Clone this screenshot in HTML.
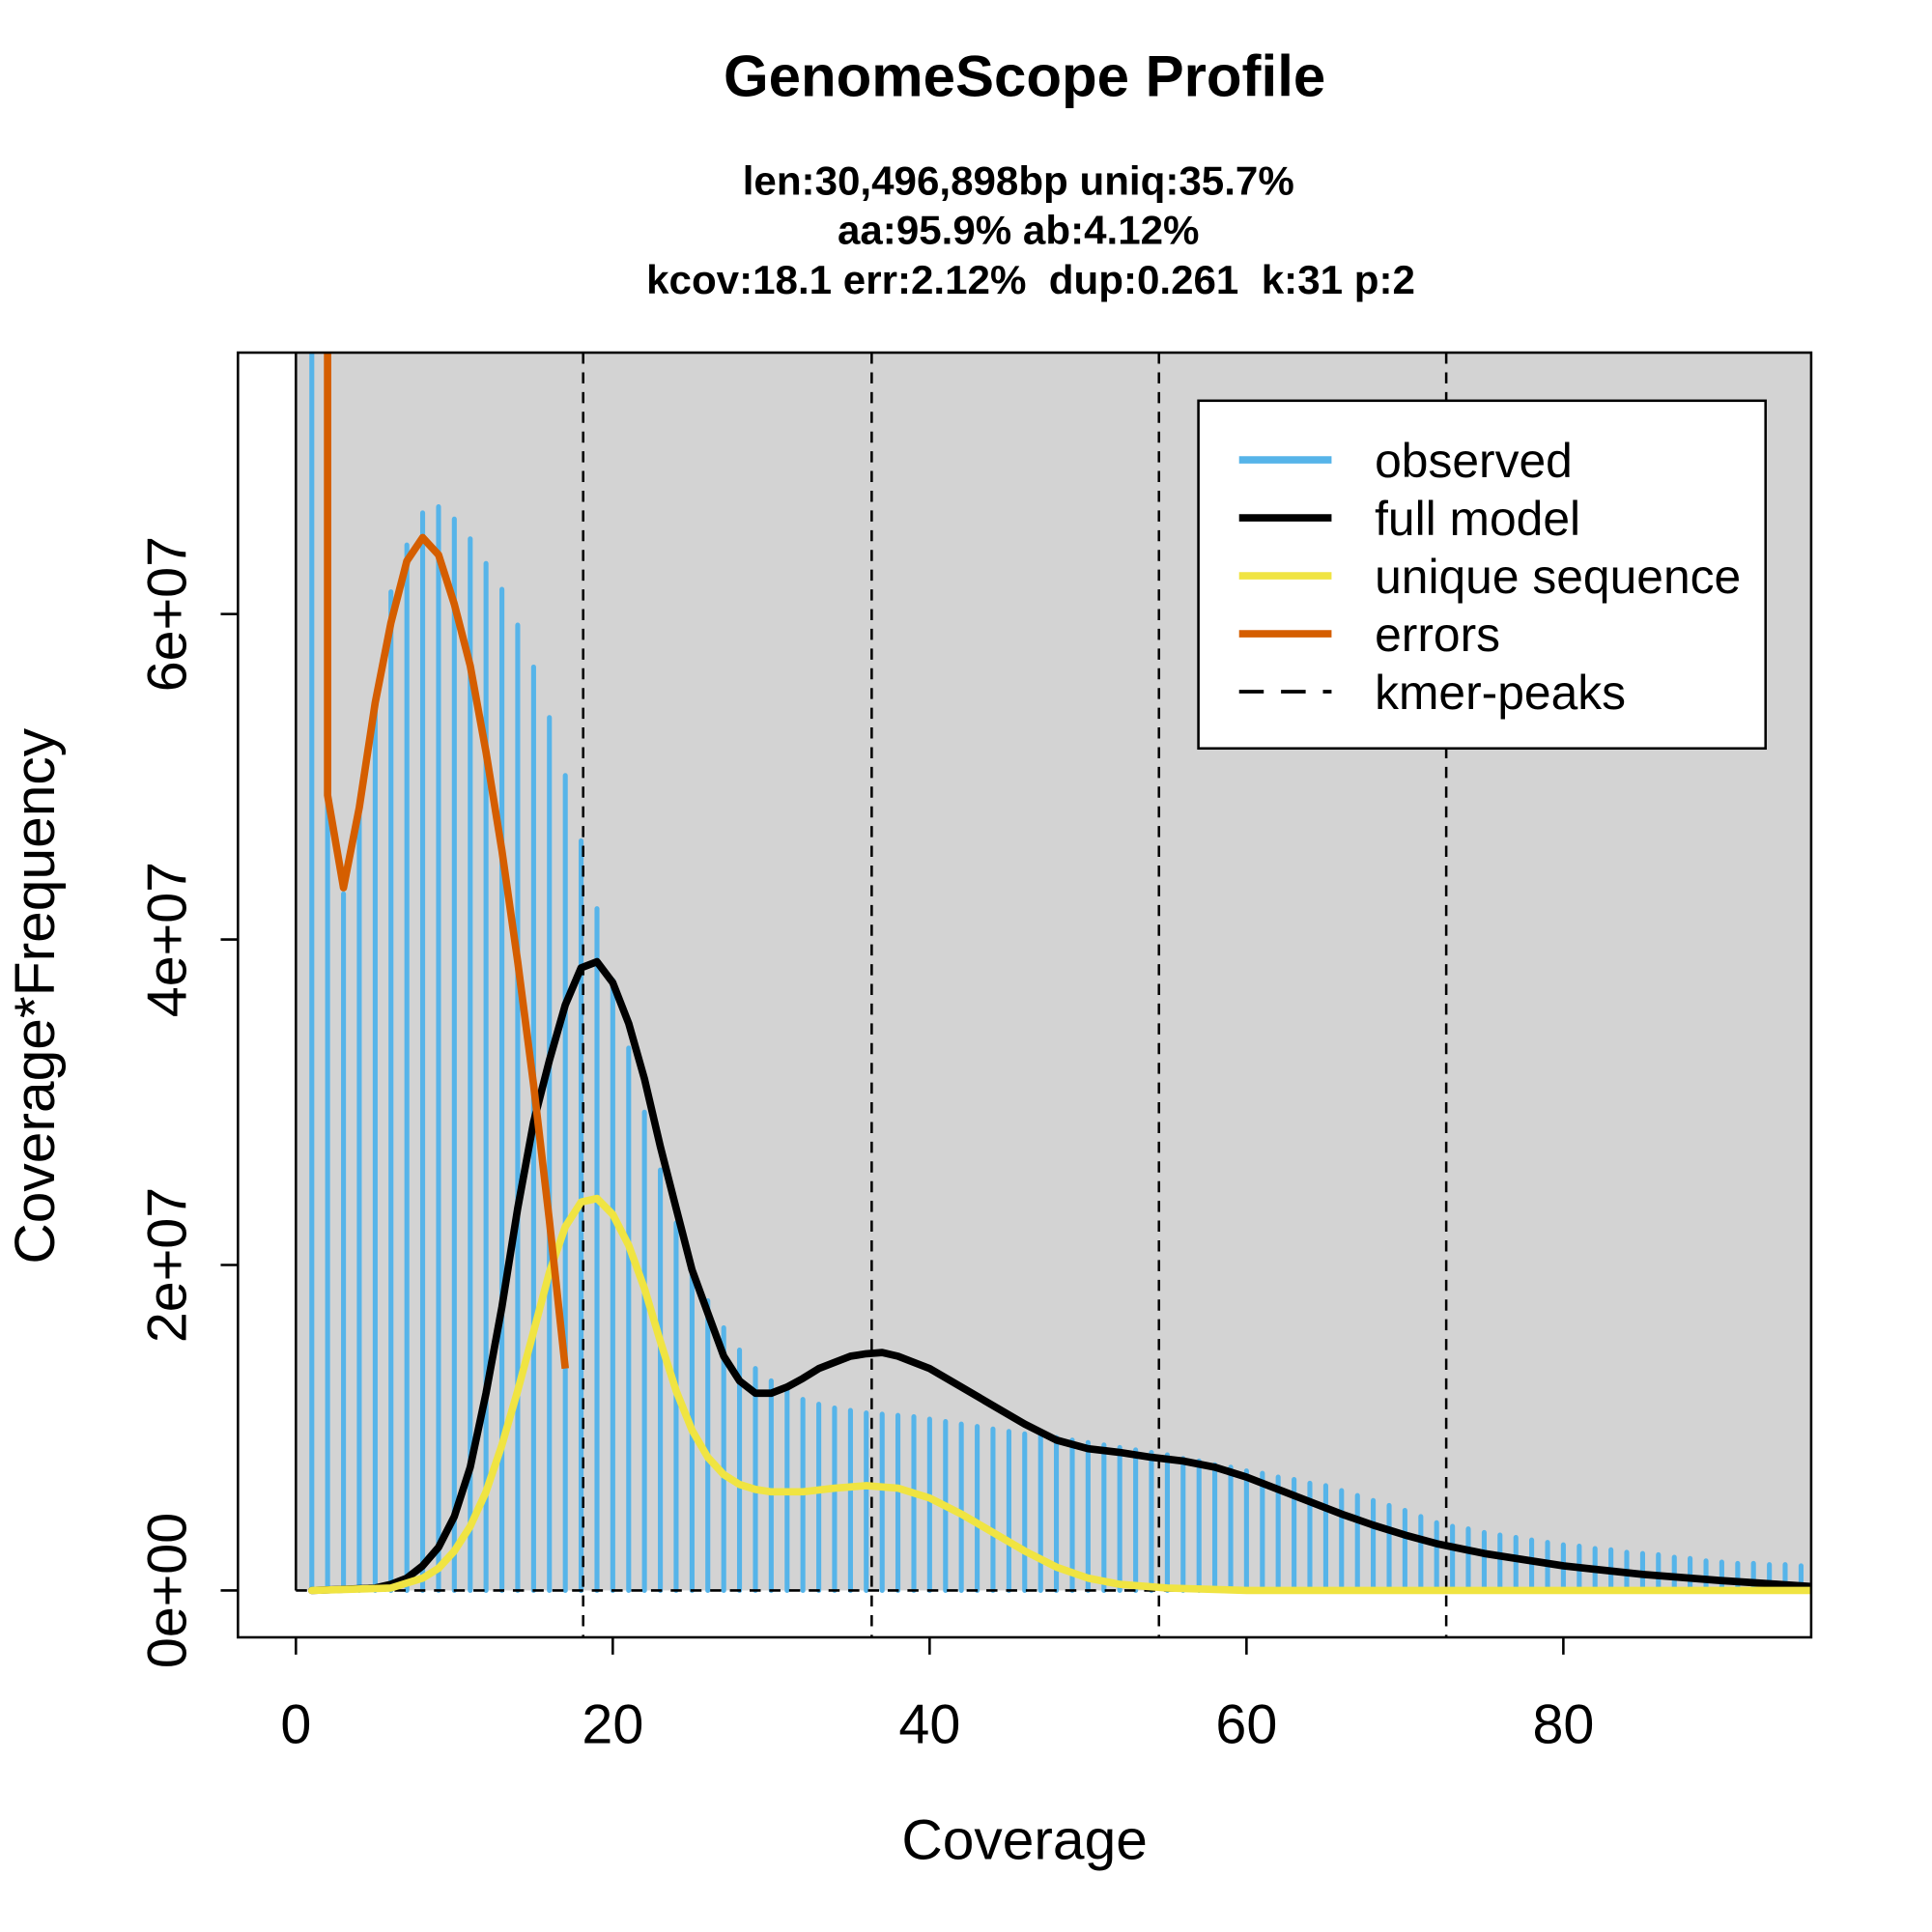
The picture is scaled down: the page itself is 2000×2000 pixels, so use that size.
<!DOCTYPE html>
<html><head><style>html,body{margin:0;padding:0;background:#fff}svg{display:block}</style></head>
<body>
<svg width="2000" height="2000" viewBox="0 0 1567 1567" xmlns="http://www.w3.org/2000/svg" font-family="Liberation Sans, Arial, sans-serif">
<rect width="1567" height="1567" fill="#fff"/>
<rect x="240" y="286" width="1229" height="1004" fill="#d3d3d3"/>
<line x1="240" y1="286" x2="240" y2="1290" stroke="#000" stroke-width="2"/>
<defs><clipPath id="c"><rect x="193" y="286" width="1276" height="1042"/></clipPath></defs>
<g clip-path="url(#c)">
<path fill="none" stroke="#56B4E9" stroke-width="4" stroke-linecap="round" d="
M252.9 1290V250M265.7 1290V250M278.6 1290V725M291.4 1290V660M304.3 1290V575M317.1 1290V480M330.0 1290V442M342.8 1290V416M355.7 1290V411M368.5 1290V421
M381.4 1290V437M394.2 1290V457M407.1 1290V478M419.9 1290V507M432.8 1290V541M445.6 1290V582M458.5 1290V629M471.3 1290V682M484.2 1290V737M497.0 1290V795
M509.9 1290V850M522.7 1290V902M535.6 1290V949M548.4 1290V992M561.3 1290V1027M574.1 1290V1055M587.0 1290V1077M599.8 1290V1095M612.7 1290V1110M625.5 1290V1120
M638.4 1290V1128M651.2 1290V1135M664.1 1290V1139M676.9 1290V1142M689.8 1290V1144M702.6 1290V1146M715.5 1290V1147M728.3 1290V1148M741.2 1290V1149M754.0 1290V1151
M766.9 1290V1153M779.7 1290V1155M792.6 1290V1157M805.4 1290V1159M818.3 1290V1161M831.1 1290V1163M844.0 1290V1164M856.8 1290V1166M869.7 1290V1168M882.5 1290V1170
M895.4 1290V1172M908.2 1290V1174M921.1 1290V1176M933.9 1290V1178M946.8 1290V1180M959.6 1290V1183M972.5 1290V1185M985.3 1290V1188M998.2 1290V1190M1011.0 1290V1193
M1023.9 1290V1195M1036.7 1290V1198M1049.6 1290V1200M1062.4 1290V1203M1075.3 1290V1205M1088.1 1290V1209M1101.0 1290V1213M1113.8 1290V1217M1126.7 1290V1221M1139.5 1290V1225
M1152.4 1290V1230M1165.2 1290V1235M1178.1 1290V1238M1190.9 1290V1240M1203.8 1290V1243M1216.6 1290V1245M1229.5 1290V1247M1242.3 1290V1249M1255.2 1290V1251M1268.0 1290V1253
M1280.9 1290V1254M1293.7 1290V1256M1306.6 1290V1257M1319.4 1290V1259M1332.3 1290V1260M1345.1 1290V1261M1358.0 1290V1263M1370.8 1290V1264M1383.7 1290V1266M1396.5 1290V1267
M1409.4 1290V1268M1422.2 1290V1268M1435.1 1290V1269M1447.9 1290V1269M1460.8 1290V1270"/>
<g stroke="#000" stroke-width="2" stroke-dasharray="9,7">
<line x1="473" y1="286" x2="473" y2="1328"/><line x1="707" y1="286" x2="707" y2="1328"/>
<line x1="940" y1="286" x2="940" y2="1328"/><line x1="1173" y1="286" x2="1173" y2="1328"/>
<line x1="240" y1="1290" x2="1469" y2="1290"/>
</g>
<polyline fill="none" stroke="#000" stroke-width="6" stroke-linejoin="round" stroke-linecap="round" points="252.9,1290 304.3,1288 317.1,1285 330,1280 342.8,1270 355.7,1255 368.5,1230 381.4,1190 394.2,1130 407.1,1060 419.9,980 432.8,910 445.6,860 458.5,815 471.3,785 484.2,780 497,797 509.9,830 522.7,875 535.6,930 548.4,980 561.3,1030 574.1,1065 587,1100 599.8,1120 612.7,1130 625.5,1130 638.4,1125 651.2,1118 664.1,1110 676.9,1105 689.8,1100 702.6,1098 715.5,1097 728.3,1100 754,1110 779.7,1125 805.4,1140 831.1,1155 856.8,1168 882.5,1175 908.2,1178 933.9,1182 959.6,1185 985.3,1190 1011,1198 1036.7,1208 1062.4,1218 1088.1,1228 1113.8,1237 1139.5,1245 1165.2,1252 1203.8,1260 1268,1270 1332.3,1277 1396.5,1282 1473,1287"/>
<polyline fill="none" stroke="#F0E442" stroke-width="6" stroke-linejoin="round" stroke-linecap="round" points="252.9,1290 317.1,1288 342.8,1280 355.7,1272 368.5,1258 381.4,1238 394.2,1210 407.1,1172 419.9,1128 432.8,1080 445.6,1032 458.5,995 471.3,975 484.2,972 497,985 509.9,1010 522.7,1045 535.6,1088 548.4,1128 561.3,1160 574.1,1182 587,1196 599.8,1204 612.7,1208 625.5,1210 651.2,1210 676.9,1207 702.6,1205 728.3,1207 754,1215 779.7,1228 805.4,1243 831.1,1258 856.8,1271 882.5,1280 908.2,1285 946.8,1288 1011,1290 1473,1290"/>
<polyline fill="none" stroke="#D55E00" stroke-width="6" stroke-linejoin="round" points="265.7,280 265.7,645 278.6,720 291.4,655 304.3,570 317.1,505 330,455 342.8,436 355.7,450 368.5,490 381.4,540 394.2,610 407.1,690 419.9,780 432.8,880 445.6,990 458.5,1110"/>
</g>
<rect x="193" y="286" width="1276" height="1042" fill="none" stroke="#000" stroke-width="2"/>
<g stroke="#000" stroke-width="2">
<line x1="240" y1="1328" x2="240" y2="1342"/><line x1="497" y1="1328" x2="497" y2="1342"/><line x1="754" y1="1328" x2="754" y2="1342"/><line x1="1011" y1="1328" x2="1011" y2="1342"/><line x1="1268" y1="1328" x2="1268" y2="1342"/>
<line x1="193" y1="1290" x2="179" y2="1290"/><line x1="193" y1="1026" x2="179" y2="1026"/><line x1="193" y1="762" x2="179" y2="762"/><line x1="193" y1="498" x2="179" y2="498"/>
</g>
<g font-size="45" text-anchor="middle">
<text x="240" y="1414">0</text><text x="497" y="1414">20</text><text x="754" y="1414">40</text><text x="1011" y="1414">60</text><text x="1268" y="1414">80</text>
<text transform="translate(151,1290) rotate(-90)">0e+00</text>
<text transform="translate(151,1026) rotate(-90)">2e+07</text>
<text transform="translate(151,762) rotate(-90)">4e+07</text>
<text transform="translate(151,498) rotate(-90)">6e+07</text>
<text x="831" y="1508" font-size="46">Coverage</text>
<text transform="translate(44,808) rotate(-90)" font-size="46">Coverage*Frequency</text>
</g>
<g text-anchor="middle" font-weight="bold">
<text x="831" y="78" font-size="47">GenomeScope Profile</text>
<text x="826" y="158" font-size="33">len:30,496,898bp uniq:35.7%</text>
<text x="826" y="198" font-size="33">aa:95.9% ab:4.12%</text>
<text x="836" y="238" font-size="33" xml:space="preserve">kcov:18.1 err:2.12%  dup:0.261  k:31 p:2</text>
</g>
<rect x="972" y="325" width="460" height="282" fill="#fff" stroke="#000" stroke-width="2"/>
<g stroke-width="6">
<line x1="1005" y1="373" x2="1080" y2="373" stroke="#56B4E9"/>
<line x1="1005" y1="420" x2="1080" y2="420" stroke="#000"/>
<line x1="1005" y1="467" x2="1080" y2="467" stroke="#F0E442"/>
<line x1="1005" y1="514" x2="1080" y2="514" stroke="#D55E00"/>
<line x1="1005" y1="561" x2="1080" y2="561" stroke="#000" stroke-width="3" stroke-dasharray="20,14"/>
</g>
<g font-size="39">
<text x="1115" y="387">observed</text><text x="1115" y="434">full model</text><text x="1115" y="481">unique sequence</text><text x="1115" y="528">errors</text><text x="1115" y="575">kmer-peaks</text>
</g>
</svg>
</body></html>
